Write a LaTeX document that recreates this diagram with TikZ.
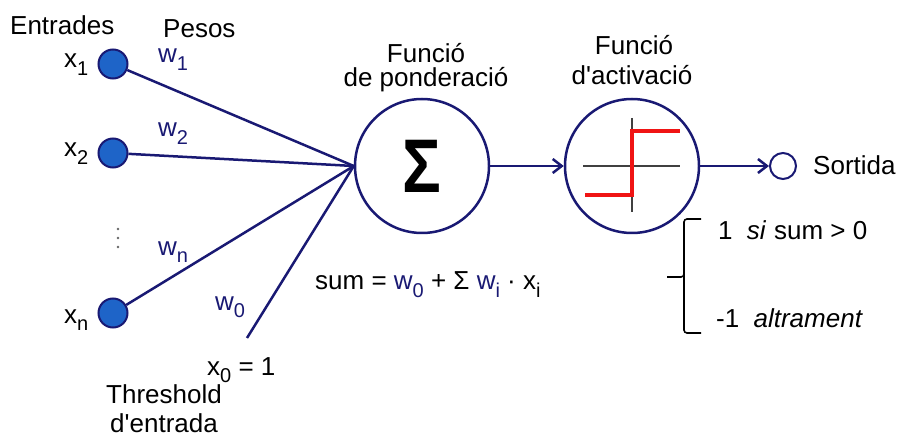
\documentclass[tikz,border=0pt]{standalone}
\usepackage{fontspec}
\newfontfamily\arial{Liberation Sans}
\usetikzlibrary{arrows.meta}
\definecolor{navy}{RGB}{25,25,115}
\definecolor{inblue}{RGB}{30,100,200}
\definecolor{stepred}{RGB}{240,20,20}
\newcommand\lbl[2]{#1\raisebox{-0.3em}{\fontsize{20}{20}\selectfont #2}}
\begin{document}
\begin{tikzpicture}[x=1pt,y=-1pt, font=\arial\fontsize{26}{30}\selectfont,
 inp/.style={circle,draw=navy,fill=inblue,line width=2pt,minimum size=29pt,inner sep=0pt},
 wire/.style={draw=navy,line width=2.5pt},
 big/.style={circle,draw=navy,line width=2.5pt,minimum size=134pt,inner sep=0pt},
 txt/.style={anchor=base west,inner sep=0pt},
 ctxt/.style={anchor=base,inner sep=0pt},
 arr/.style={wire,-{Straight Barb[length=9pt,width=14pt,line width=2.5pt]}}]
\useasboundingbox (0,0) rectangle (899,438);
% input neurons
\node[inp] (x1) at (113,64) {};
\node[inp] (x2) at (113,153) {};
\node[inp] (xn) at (113,313) {};
% main circles
\node[big] (sig) at (422,166) {\fontsize{76}{76}\selectfont\bfseries\scalebox{0.85}[1]{Σ}};
\node[big] (act) at (632,166) {};
\node[circle,draw=navy,line width=2pt,minimum size=26pt,inner sep=0pt] (out) at (783,166) {};
% step function
\begin{scope}[shift={(act.center)}]
\draw[black!75,line width=1.5pt] (-49,0) -- (48,0);
\draw[black!75,line width=1.5pt] (0,-48) -- (0,46);
\draw[stepred,line width=4pt] (-47,29) -- (0,29) -- (0,-35) -- (48,-35);
\end{scope}
% connectors
\coordinate (thr) at (247,338);
\draw[wire] (x1) -- (sig.west);
\draw[wire] (x2) -- (sig.west);
\draw[wire] (xn) -- (sig.west);
\draw[wire] (thr) -- (sig.west);
\draw[arr] (sig) -- (act);
\draw[arr] (act) -- (out);
% dots
\fill[black!60] (118,229) circle (1.3pt) (118,238) circle (1.3pt) (118,247) circle (1.3pt);
% labels
\node[txt] (ent) at (10,35) {Entrades};
\node[txt] (pes) at (163,38) {Pesos};
\node[txt] (lx1) at (64,68) {\lbl{x}{1}};
\node[txt] (lx2) at (64,157) {\lbl{x}{2}};
\node[txt] (lxn) at (64,323) {\lbl{x}{n}};
\node[txt,text=navy] (lw1) at (158,63) {\lbl{w}{1}};
\node[txt,text=navy] (lw2) at (158,137) {\lbl{w}{2}};
\node[txt,text=navy] (lwn) at (158,255) {\lbl{w}{n}};
\node[txt,text=navy] (lw0) at (215,310) {\lbl{w}{0}};
\node[txt] (x0) at (207,375) {\lbl{x}{0} = 1};
\node[ctxt] (thr1) at (164,403) {Threshold};
\node[ctxt] (thr2) at (164,432) {d'entrada};
\node[ctxt] (fp1) at (426,63) {Funció};
\node[ctxt] (fp2) at (426,87) {de ponderació};
\node[ctxt] (fa1) at (634,55) {Funció};
\node[ctxt] (fa2) at (632,85) {d'activació};
\node[txt] (sum) at (315,290) {sum = \textcolor{navy}{\lbl{w}{0}} + Σ \textcolor{navy}{\lbl{w}{i}} · \lbl{x}{i}};
\node[txt] (sort) at (813,175) {Sortida};
\node[txt] (r1) at (718,240) {1\hspace{0.55em}\textit{si}\hspace{0.3em}sum > 0};
\node[txt] (r2) at (716,327) {-1\hspace{0.55em}\textit{altrament}};
% brace
\draw[black,line width=1.6pt,rounded corners=3pt] (701,219) -- (684,219) -- (684,277) -- (667,277);
\draw[black,line width=1.6pt,rounded corners=3pt] (684,270) -- (684,333) -- (701,333);
\end{tikzpicture}
\end{document}
